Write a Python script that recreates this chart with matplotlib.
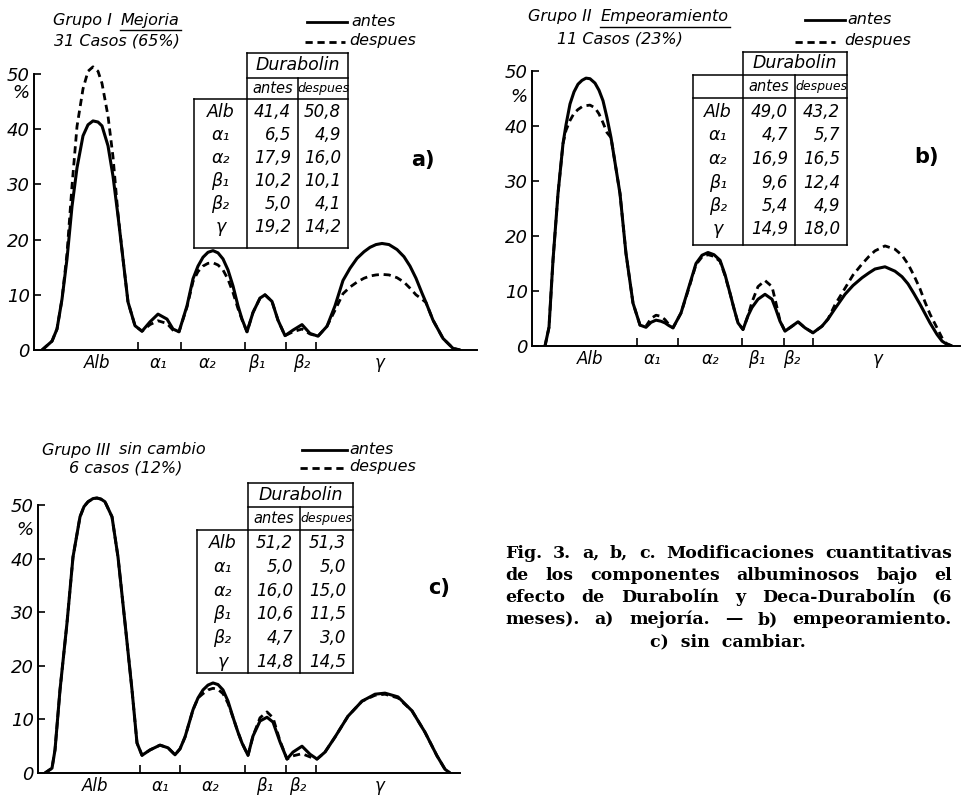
import numpy as np
import matplotlib.pyplot as plt

plt.rcParams['font.family'] = ['DejaVu Sans']

HAND = dict(family='DejaVu Sans', style='italic')

# electrophoresis fractions
fractions = ['Alb', 'α₁', 'α₂', 'β₁', 'β₂', 'γ']

# ---- Grupo I (mejoria) : curve traced from the strip, mobility units ----
a_x = [8, 18, 23, 28, 33, 38, 43, 49, 54, 59, 64, 68, 74, 79, 84, 89, 94, 101, 108, 116,
       124, 133, 139, 145, 153, 159, 164, 169, 174, 179, 184, 189, 194, 199, 204, 208, 213,
       219, 226, 231, 238, 244, 251, 259, 268, 276, 284, 293, 301, 309, 316, 323, 330, 336,
       342, 348, 355, 363, 370, 376, 382, 388, 392, 399, 409, 419, 426]
a_antes = [0, 1.6, 3.8, 9.2, 16.5, 26, 33, 38.8, 40.8, 41.5, 41.3, 40.6, 37, 31.5, 24.3, 16.5,
           8.7, 4.4, 3.4, 5.1, 6.5, 5.6, 3.8, 3.3, 8, 12.9, 15.2, 16.8, 17.7, 18, 17.6, 16.5,
           14.5, 11.6, 8, 5.6, 3.3, 6.8, 9.4, 10, 8.8, 5.4, 2.6, 3.6, 4.6, 3.0, 2.5, 4.3, 8,
           12.6, 14.8, 16.6, 17.8, 18.6, 19.1, 19.3, 19.1, 18.2, 16.9, 15.2, 13, 10.3, 8.6,
           5.4, 2.1, 0.3, 0]
a_despues = [0, 1.6, 3.8, 9.2, 17.5, 29.7, 40.5, 47.3, 50.5, 51.3, 50.5, 48.3, 42.4, 35,
             24.6, 16.5, 8.7, 4.4, 3.4, 4.6, 5.3, 4.8, 3.6, 3.3, 7.8, 12.4, 14.2, 15.2, 15.7,
             15.8, 15.4, 14.5, 12.8, 10.4, 7.5, 5.5, 3.3, 6.8, 9.4, 10, 8.8, 5.4, 2.6, 3.3,
             3.8, 2.9, 2.5, 4.3, 7.2, 10.2, 11.4, 12.3, 13, 13.4, 13.6, 13.7, 13.6, 13.1,
             12.3, 11.2, 10, 9.2, 8.6, 5.4, 2.1, 0.3, 0]
a_bounds = [104, 147, 211, 252, 282]
a_label_pos = [63, 124, 173, 223, 268, 346]
a_tab_antes = [41.4, 6.5, 17.9, 10.2, 5.0, 19.2]
a_tab_despues = [50.8, 4.9, 16.0, 10.1, 4.1, 14.2]

# ---- Grupo II (empeoramiento) ----
b_x = [13, 17, 21, 26, 31, 34, 38, 42, 46, 50, 54, 58, 63, 67, 71, 75, 79, 88, 94, 101, 108,
       114, 119, 124, 129, 133, 137, 141, 149, 156, 164, 170, 176, 182, 188, 193, 198, 202,
       206, 211, 216, 220, 226, 233, 240, 244, 248, 253, 260, 266, 273, 281, 290, 296, 303,
       313, 321, 330, 337, 343, 353, 363, 370, 376, 382, 388, 393, 398, 405, 410, 414, 420]
b_antes = [0, 3.4, 15.6, 27.7, 36.8, 40.2, 44, 46.2, 47.6, 48.3, 48.7, 48.6, 47.8, 46.5,
           44.6, 41.5, 37.9, 27.7, 16.8, 7.8, 3.8, 3.4, 4.3, 4.7, 4.5, 4.2, 3.7, 3.3, 6,
           10.2, 15, 16.5, 17, 16.6, 15.6, 13, 9.6, 6.8, 4.2, 3.0, 5.5, 7.0, 8.5, 9.4, 8.5,
           6.6, 4.5, 2.7, 3.6, 4.4, 3.3, 2.4, 3.6, 4.9, 6.8, 9.4, 11, 12.4, 13.3, 14, 14.4,
           13.6, 12.6, 11.3, 9.5, 7.6, 5.9, 4.2, 2.1, 0.9, 0.4, 0]
b_despues = [0, 3.4, 15.6, 27.7, 36.8, 39.2, 41, 42.3, 43, 43.5, 43.7, 43.8, 43.3, 42.2,
             40.6, 38.8, 37.9, 27.7, 16.8, 7.8, 3.8, 3.6, 5.0, 5.6, 5.4, 4.8, 3.9, 3.3, 6,
             10, 14.8, 16.2, 16.6, 16.3, 15.4, 12.8, 9.6, 6.8, 4.2, 3.0, 5.5, 8, 10.8, 11.9,
             10.8, 7.8, 4.6, 2.7, 3.6, 4.4, 3.3, 2.4, 3.6, 4.9, 7.5, 10.5, 12.9, 14.9, 16.3,
             17.3, 18.2, 17.6, 16.5, 14.9, 12.8, 10.4, 8, 5.8, 3.3, 1.5, 0.5, 0]
b_bounds = [105, 146, 210, 252, 281]
b_label_pos = [58, 120, 178, 225, 260, 346]
b_tab_antes = [49.0, 4.7, 16.9, 9.6, 5.4, 14.9]
b_tab_despues = [43.2, 5.7, 16.5, 12.4, 4.9, 18.0]

# ---- Grupo III (sin cambio) ----
c_x = [7, 14, 17, 22, 29, 35, 42, 46, 50, 55, 59, 63, 67, 74, 80, 87, 94, 99, 104, 112, 122,
       130, 137, 142, 147, 155, 160, 165, 170, 175, 180, 185, 190, 195, 200, 204, 210, 215,
       222, 229, 235, 242, 249, 255, 264, 272, 279, 287, 297, 310, 324, 337, 347, 360, 374,
       387, 399, 407, 412]
c_antes = [0, 0.9, 4.3, 15.5, 28, 40.3, 47.8, 49.7, 50.6, 51.2, 51.3, 51.1, 50.6, 47.8, 40.3,
           28, 15.5, 5.6, 3.3, 4.3, 5.2, 4.7, 3.4, 4.5, 6.7, 11.8, 14, 15.5, 16.4, 16.8, 16.5,
           15.5, 13.4, 10.4, 7.6, 5.6, 3.3, 6.9, 9.7, 10.4, 9.5, 5.8, 2.6, 3.9, 5, 3.5, 2.6,
           3.9, 6.7, 10.6, 13.4, 14.7, 14.9, 14.2, 11.6, 7.6, 3.2, 0.7, 0]
c_despues = [0, 0.9, 4.3, 15.5, 28, 40.3, 47.8, 49.7, 50.6, 51.2, 51.3, 51.1, 50.6, 47.8,
             40.3, 28, 15.5, 5.6, 3.3, 4.3, 5.2, 4.7, 3.4, 4.5, 6.7, 11.8, 14, 14.8, 15.5,
             15.8, 15.6, 14.8, 13.0, 10.4, 7.6, 5.6, 3.3, 6.9, 10.3, 11.4, 10.3, 6.0, 2.6, 3.2,
             3.6, 3.0, 2.6, 3.9, 6.7, 10.6, 13.4, 14.5, 14.7, 14.0, 11.6, 7.6, 3.2, 0.7, 0]
c_bounds = [102, 142, 207, 248, 278]
c_label_pos = [57, 122, 172, 227, 260, 342]
c_tab_antes = [51.2, 5.0, 16.0, 10.6, 4.7, 14.8]
c_tab_despues = [51.3, 5.0, 15.0, 11.5, 3.0, 14.5]

W, H = 965, 798
fig = plt.figure(figsize=(W / 100, H / 100), dpi=100)
fig.patch.set_facecolor('white')
renderer = fig.canvas.get_renderer()


def px_axes(left, baseline, width, scale, ytop=56):
    return fig.add_axes([left / W, (H - baseline) / H, width / W, ytop * scale / H])


def draw_panel(ax, x, antes, despues, bounds, label_pos, width, pct_y):
    ax.plot(x, despues, color='k', lw=2.0, linestyle=(0, (2.6, 1.7)))
    ax.plot(x, antes, color='k', lw=2.2, solid_joinstyle='round', solid_capstyle='round')
    ax.set_xlim(0, width)
    ax.set_ylim(0, 56)
    ax.patch.set_alpha(0)
    for s in ['top', 'right']:
        ax.spines[s].set_visible(False)
    ax.spines['left'].set_bounds(0, 50)
    for s in ['left', 'bottom']:
        ax.spines[s].set_linewidth(1.4)
    ax.set_yticks(range(0, 51, 10))
    ax.tick_params(axis='y', direction='in', length=5, width=1.2, labelsize=13, pad=3)
    for lab in ax.get_yticklabels():
        lab.set(**HAND)
    ax.set_xticks(bounds)
    ax.set_xticklabels([])
    ax.tick_params(axis='x', which='major', direction='in', length=6, width=1.2)
    ax.set_xticks(label_pos, minor=True)
    ax.set_xticklabels(fractions, minor=True, fontsize=12, **HAND)
    ax.tick_params(axis='x', which='minor', length=0, pad=3)
    ax.annotate('%', xy=(0, pct_y), xycoords=('axes fraction', 'data'), xytext=(-3, 0),
                textcoords='offset points', ha='right', va='center', fontsize=13, **HAND)


ax_a = px_axes(34, 350, 443, 5.52)
draw_panel(ax_a, a_x, a_antes, a_despues, a_bounds, a_label_pos, 443, 46.5)
ax_b = px_axes(532, 346, 428, 5.5)
draw_panel(ax_b, b_x, b_antes, b_despues, b_bounds, b_label_pos, 428, 45.3)
ax_c = px_axes(38, 773, 422, 5.36)
draw_panel(ax_c, c_x, c_antes, c_despues, c_bounds, c_label_pos, 422, 45.3)

# overlay in pixel units for titles, legends, tables and caption
ov = fig.add_axes([0, 0, 1, 1], zorder=5)
ov.set_xlim(0, W)
ov.set_ylim(H, 0)
ov.axis('off')
ov.patch.set_alpha(0)


def hline(x0, x1, y, lw=1.1):
    ov.plot([x0, x1], [y, y], color='k', lw=lw)


def vline(x, y0, y1, lw=1.1):
    ov.plot([x, x], [y0, y1], color='k', lw=lw)


def title(x, y, grupo, sub, second, second_x, y2, underline):
    g = ov.text(x, y, grupo, fontsize=11.5, va='center', ha='left', **HAND)
    sub_x = x + g.get_window_extent(renderer).width + 9
    t = ov.text(sub_x, y, sub, fontsize=11.5, va='center', ha='left', **HAND)
    ov.text(second_x, y2, second, fontsize=11.5, va='center', ha='center', **HAND)
    if underline:
        w = t.get_window_extent(renderer).width
        hline(sub_x - 1, sub_x + w + 1, y + 10, lw=1.0)


def legend(x_solid, x_dash, y1, y2, txt_x1, txt_x2, length):
    ov.plot([x_solid, x_solid + length], [y1, y1], color='k', lw=2.0)
    ov.plot([x_dash, x_dash + length], [y2, y2], color='k', lw=2.0, linestyle=(0, (2.6, 1.7)))
    ov.text(txt_x1, y1 - 1, 'antes', fontsize=11.5, va='center', ha='left', **HAND)
    ov.text(txt_x2, y2 - 1, 'despues', fontsize=11.5, va='center', ha='left', **HAND)


def fmt(v):
    return f'{v:.1f}'.replace('.', ',')


def table(xb, xc1, xc2, xr, yh, ys, yb, ye, row0, pitch, antes, despues, sub_full=False):
    hline(xc1, xr, yh)
    hline(xb if sub_full else xc1, xr, ys)
    hline(xb, xr, yb)
    hline(xb, xr, ye)
    vline(xb, ys if sub_full else yb, ye)
    vline(xc1, yh, ye)
    vline(xc2, ys, ye)
    vline(xr, yh, ye)
    ov.text((xc1 + xr) / 2, (yh + ys) / 2, 'Durabolin', fontsize=12.5, ha='center', va='center', **HAND)
    ov.text((xc1 + xc2) / 2, (ys + yb) / 2, 'antes', fontsize=10.5, ha='center', va='center', **HAND)
    ov.text((xc2 + xr) / 2, (ys + yb) / 2, 'despues', fontsize=9, ha='center', va='center', **HAND)
    for i, (lab, va_, vd_) in enumerate(zip(fractions, antes, despues)):
        y = row0 + i * pitch
        ov.text((xb + xc1) / 2, y, lab, fontsize=12.5, ha='center', va='center', **HAND)
        ov.text(xc2 - 7, y, fmt(va_), fontsize=12, ha='right', va='center', **HAND)
        ov.text(xr - 7, y, fmt(vd_), fontsize=12, ha='right', va='center', **HAND)


# panel a
title(53, 20, 'Grupo I', 'Mejoria', '31 Casos (65%)', 117, 41, True)
legend(307, 305, 22, 42, 351, 349, 40)
table(194, 247, 298, 348, 53, 78, 99, 248, 112, 23, a_tab_antes, a_tab_despues)
ov.text(423, 160, 'a)', fontsize=15, fontweight='bold', ha='center', va='center')

# panel b
title(528, 17, 'Grupo II', 'Empeoramiento', '11 Casos (23%)', 620, 39, True)
legend(805, 795, 20, 42, 847, 844, 40)
table(693, 743, 795, 847, 52, 75, 98, 245, 112, 23.5, b_tab_antes, b_tab_despues, sub_full=True)
ov.text(927, 157, 'b)', fontsize=15, fontweight='bold', ha='center', va='center')

# panel c
title(42, 450, 'Grupo III', 'sin cambio', '6 casos (12%)', 126, 468, False)
legend(302, 300, 450, 468, 349, 349, 45)
table(197, 248, 300, 353, 483, 507, 530, 673, 543, 23.8, c_tab_antes, c_tab_despues)
ov.text(439, 588, 'c)', fontsize=15, fontweight='bold', ha='center', va='center')

# caption, justified between x=505 and x=952
caption = [
    'Fig. 3.  a, b, c. Modificaciones cuantitativas',
    'de los componentes albuminosos bajo el',
    'efecto de Durabolín y Deca-Durabolín (6',
    'meses). a) mejoría. — b) empeoramiento.',
]
cap_size = 12.5
while True:
    probe = [ov.text(0, 0, w, family='DejaVu Serif', fontweight='bold', fontsize=cap_size)
             for w in caption[0].split()]
    need = sum(t.get_window_extent(renderer).width for t in probe) + 5 * (len(probe) - 1)
    for t in probe:
        t.remove()
    if need <= 447:
        break
    cap_size -= 0.25
CAP = dict(family='DejaVu Serif', fontweight='bold', fontsize=cap_size, va='center', ha='left')
for i, line in enumerate(caption):
    y = 553 + i * 22.2
    words = line.split()
    ts = [ov.text(0, y, w, **CAP) for w in words]
    ws = [t.get_window_extent(renderer).width for t in ts]
    gap = (952 - 505 - sum(ws)) / (len(words) - 1)
    x = 505
    for t, w in zip(ts, ws):
        t.set_x(x)
        x += w + gap
ov.text(728, 553 + 4 * 22.2, 'c)  sin  cambiar.', **dict(CAP, ha='center'))

fig.savefig('out.png', dpi=100, facecolor='white')
